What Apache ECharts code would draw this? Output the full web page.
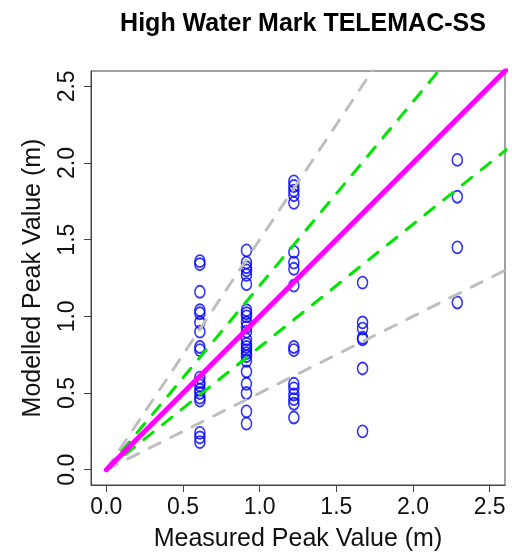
<!DOCTYPE html>
<html>
<head>
<meta charset="utf-8">
<script src="https://cdn.jsdelivr.net/npm/echarts@6/dist/echarts.min.js"></script>
<style>
  html, body { margin: 0; padding: 0; background: #fff; }
  #chart { width: 512px; height: 553px; }
</style>
</head>
<body>
<div id="chart"></div>
<script>
// Measured high water marks (m) and TELEMAC-SS modelled peaks (m) at each site
const siteA = { measured: 0.61, modelled: [1.36, 1.34, 1.16, 1.04, 1.02, 0.96, 0.90, 0.80, 0.78,
  0.60, 0.57, 0.55, 0.52, 0.50, 0.47, 0.45, 0.24, 0.21, 0.18] };
const siteB = { measured: 0.914, modelled: [1.43, 1.35, 1.32, 1.30, 1.27, 1.21, 1.04, 1.02, 1.00,
  0.96, 0.93, 0.90, 0.85, 0.82, 0.80, 0.78, 0.76, 0.74, 0.71, 0.64, 0.56, 0.50, 0.38, 0.30] };
const siteC = { measured: 1.223, modelled: [1.88, 1.85, 1.82, 1.79, 1.74, 1.42, 1.35, 1.31, 1.20,
  0.80, 0.78, 0.56, 0.53, 0.49, 0.46, 0.43, 0.34] };
const siteD = { measured: 1.671, modelled: [1.22, 0.96, 0.92, 0.86, 0.85, 0.66, 0.25] };
const siteE = { measured: 2.289, modelled: [2.02, 1.78, 1.45, 1.09] };
const sites = [siteA, siteB, siteC, siteD, siteE];

// Reference lines through the origin: 1:1, +/-20 % and +/-50 % bands
const perfectSlope = [1];
const bandSlopes = [0.8, 1.2];
const wideSlopes = [0.5, 1.5];

const tickValues = [0, 0.5, 1, 1.5, 2, 2.5];
const axisMin = -0.1;
const axisMax = 2.6;
const lineEndX = 3;

const FONT = '"Liberation Sans", Arial, Helvetica, sans-serif';

const points = [];
sites.forEach(s => s.modelled.forEach(v => points.push([s.measured, v])));

function refLine(slope, color, width, dashed, z) {
  return {
    type: 'line',
    data: [[0, 0], [lineEndX, slope * lineEndX]],
    symbol: 'none',
    silent: true,
    clip: true,
    z: z,
    lineStyle: {
      color: color,
      width: width,
      type: dashed ? [12, 12] : 'solid',
      cap: 'round'
    }
  };
}

function axisCommon() {
  return {
    type: 'value',
    min: axisMin,
    max: axisMax,
    axisLine: { show: true, onZero: false, lineStyle: { color: '#444', width: 1 } },
    splitLine: { show: false },
    axisTick: {
      show: true,
      inside: false,
      length: 7,
      customValues: tickValues,
      lineStyle: { color: '#444', width: 1 }
    },
    axisLabel: {
      customValues: tickValues,
      formatter: v => v.toFixed(1),
      fontFamily: FONT,
      fontSize: 23,
      color: '#111'
    },
    nameTextStyle: { fontFamily: FONT, fontSize: 25, color: '#111' }
  };
}

const xAxis = axisCommon();
xAxis.name = 'Measured Peak Value (m)';
xAxis.nameLocation = 'middle';
xAxis.nameGap = 42;
xAxis.axisLabel.margin = 11;

const yAxis = axisCommon();
yAxis.name = 'Modelled Peak Value (m)';
yAxis.nameLocation = 'middle';
yAxis.nameGap = 45;
yAxis.axisLabel.rotate = 90;
yAxis.axisLabel.margin = 12;

const series = [];
wideSlopes.forEach(s => series.push(refLine(s, '#bebebe', 3, true, 2)));
bandSlopes.forEach(s => series.push(refLine(s, '#00e600', 3, true, 3)));
perfectSlope.forEach(s => series.push(refLine(s, '#ff00ff', 5, false, 4)));
series.push({
  type: 'scatter',
  data: points,
  symbol: 'circle',
  symbolSize: [10, 12],
  z: 1,
  itemStyle: { color: 'rgba(0,0,0,0)', borderColor: '#0000ff', borderWidth: 1.7 }
});

const chart = echarts.init(document.getElementById('chart'), null, { renderer: 'canvas' });
chart.setOption({
  animation: false,
  backgroundColor: '#fff',
  title: {
    text: 'High Water Mark TELEMAC-SS',
    left: 298,
    top: 7,
    textAlign: 'center',
    textStyle: { fontFamily: FONT, fontSize: 25, fontWeight: 'bold', color: '#000' }
  },
  grid: {
    left: 91, right: 7, top: 71, bottom: 68,
    containLabel: false,
    outerBoundsMode: 'none',
    show: true, borderColor: '#444', borderWidth: 1, backgroundColor: 'transparent'
  },
  xAxis: xAxis,
  yAxis: yAxis,
  series: series
});
</script>
</body>
</html>
